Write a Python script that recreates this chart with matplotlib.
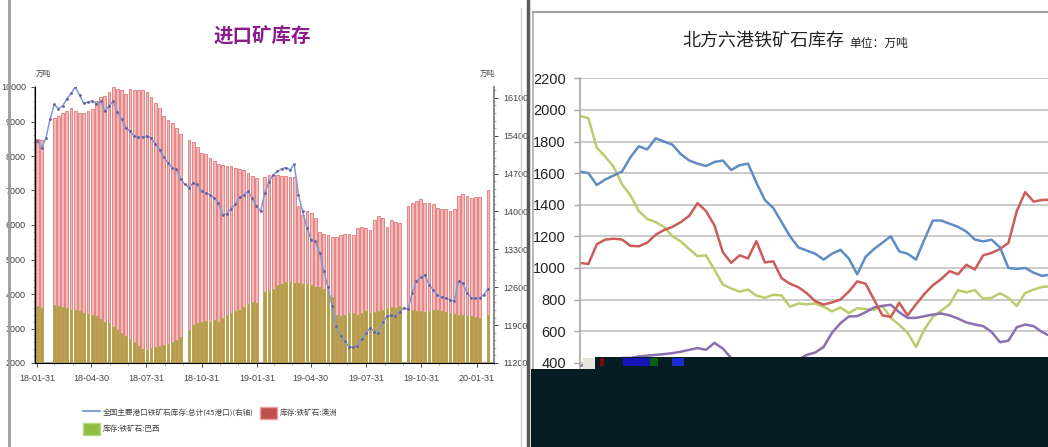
import numpy as np
import pandas as pd
import matplotlib
matplotlib.use('Agg')
import matplotlib.pyplot as plt
from matplotlib import font_manager
from matplotlib.patches import Rectangle, Patch
from matplotlib.lines import Line2D

nan = np.nan

# ---- left chart: imported ore inventory (weekly) ----
week_start = '2018-01-31'
x_labels = ['18-01-31', '18-04-30', '18-07-31', '18-10-31', '19-01-31',
            '19-04-30', '19-07-31', '19-10-31', '20-01-31']

aus = [8500, 8450, nan, nan, 9100, 9150, 9250, 9300, 9400, 9300,
       9250, 9250, 9300, 9350, 9600, 9700, 9750, 9850, 10000, 9950,
       9900, 9800, 9950, 9900, 9900, 9900, 9850, 9700, 9550, 9400,
       9150, 9050, 8950, 8800, 8650, nan, 8450, 8400, 8250, 8100,
       8050, 7950, 7850, 7780, 7750, 7720, 7700, 7650, 7630, 7580,
       7500, 7430, 7350, nan, 7400, 7450, 7450, 7450, 7430, 7420,
       7400, 7380, 6550, 6300, 6400, 6350, 6200, 5800, 5750, 5700,
       5650, 5650, 5700, 5750, 5750, 5700, 5900, 5950, 5900, 5850,
       6150, 6250, 6200, 5950, 6150, 6100, 6050, nan, 6550, 6650,
       6700, 6750, 6650, 6650, 6600, 6500, 6450, 6450, 6420, 6450,
       6850, 6900, 6830, 6770, 6800, 6800, nan, 7020]

bra = [3650, 3600, nan, nan, 3680, 3650, 3620, 3580, 3550, 3530,
       3500, 3450, 3420, 3390, 3350, 3280, 3200, 3150, 3050, 2950,
       2880, 2780, 2700, 2620, 2500, 2400, 2380, 2430, 2470, 2500,
       2520, 2560, 2600, 2680, 2760, nan, 2950, 3100, 3150, 3200,
       3220, 3200, 3250, 3200, 3300, 3380, 3450, 3500, 3550, 3620,
       3700, 3780, 3750, nan, 4050, 4100, 4150, 4250, 4300, 4350,
       4350, 4330, 4320, 4300, 4280, 4250, 4200, 4200, 4150, 4050,
       3900, 3400, 3350, 3400, 3450, 3450, 3400, 3450, 3500, 3450,
       3480, 3500, 3550, 3600, 3620, 3600, 3650, nan, 3500, 3550,
       3520, 3500, 3480, 3500, 3550, 3530, 3500, 3480, 3450, 3420,
       3400, 3380, 3350, 3350, 3330, 3300, nan, 3400]

total45 = [15300, 15180, 15350, 15700, 15980, 15900, 15950, 16080, 16180, 16300,
           16150, 16000, 16020, 16040, 15990, 16040, 15850, 15950, 16040, 15830,
           15700, 15550, 15480, 15400, 15370, 15380, 15390, 15360, 15250, 15140,
           15000, 14900, 14810, 14780, 14600, 14500, 14440, 14530, 14500, 14370,
           14340, 14310, 14250, 14160, 13940, 13960, 14050, 14130, 14260, 14300,
           14370, 14250, 14100, 14000, 14350, 14550, 14680, 14740, 14790, 14810,
           14770, 14870, 14300, 14000, 13700, 13480, 13450, 13240, 12900, 12600,
           12250, 11880, 11700, 11600, 11500, 11490, 11520, 11650, 11750, 11850,
           11780, 11760, 11950, 12060, 12080, 12060, 12150, 12220, 12190, 12500,
           12710, 12780, 12830, 12650, 12550, 12460, 12420, 12400, 12370, 12340,
           12710, 12680, 12500, 12400, 12400, 12410, 12460, 12570]

# ---- right chart: six northern ports ----
n6_blue = [1610, 1600, 1525, 1560, 1585, 1610, 1700, 1770, 1750, 1820,
           1800, 1780, 1720, 1680, 1660, 1645, 1670, 1680, 1620, 1650,
           1660, 1540, 1430, 1380, 1290, 1200, 1130, 1110, 1090, 1053,
           1090, 1115, 1060, 960, 1070, 1120, 1160, 1200, 1105, 1090,
           1053, 1180, 1300, 1300, 1280, 1260, 1230, 1180, 1168, 1179,
           1130, 1000, 994, 1000, 970, 950, 958]
n6_red = [1032, 1025, 1150, 1179, 1185, 1180, 1140, 1137, 1160, 1210,
          1240, 1260, 1290, 1330, 1410, 1360, 1270, 1100, 1032, 1080,
          1060, 1170, 1035, 1042, 935, 900, 878, 840, 790, 768,
          782, 800, 850, 915, 900, 800, 700, 690, 780, 700,
          770, 835, 890, 930, 980, 960, 1020, 990, 1080, 1095,
          1120, 1158, 1360, 1480, 1420, 1430, 1432]
n6_green = [1962, 1947, 1760, 1705, 1640, 1530, 1460, 1360, 1310, 1290,
            1260, 1200, 1168, 1120, 1074, 1080, 990, 895, 870, 850,
            863, 825, 811, 830, 826, 755, 775, 770, 775, 755,
            725, 750, 715, 745, 740, 735, 760, 684, 640, 590,
            500, 611, 690, 730, 770, 860, 845, 860, 805, 811,
            840, 811, 760, 842, 863, 880, 884]
n6_purple = [380, 390, 400, 410, 420, 430, 430, 440, 445, 450,
             455, 461, 470, 482, 493, 482, 526, 490, 430, 400,
             380, 360, 350, 345, 350, 370, 420, 450, 465, 500,
             590, 650, 693, 695, 720, 750, 760, 767, 720, 684,
             684, 695, 705, 712, 700, 680, 655, 642, 632, 595,
             530, 540, 625, 642, 632, 595, 568]

W, H = 1048, 447


def fx(px):
    return px / W


def fy(py):
    return 1 - py / H


names = {f.name for f in font_manager.fontManager.ttflist}
narrow = 'Liberation Sans Narrow' in names
NUM = 'Liberation Sans Narrow' if narrow else 'Liberation Sans'
CJK = ['Noto Sans CJK SC', 'DejaVu Sans']
plt.rcParams['font.family'] = [NUM, 'Noto Sans CJK SC', 'DejaVu Sans']

fig = plt.figure(figsize=(W / 100, H / 100), dpi=100)
fig.patch.set_facecolor('white')

weeks = pd.date_range(week_start, periods=len(aus), freq='7D')

ax1 = fig.add_axes([fx(35), fy(363), fx(494) - fx(35), fy(87) - fy(363)])
ax1.bar(weeks, aus, width=4.6, color='#f5b9b9', edgecolor='#d96565', linewidth=0.5, zorder=2)
ax1.bar(weeks, bra, width=4.6, color='#c49552', edgecolor='#a9b048', linewidth=0.6, zorder=3)
ax1.set_ylim(2000, 10000)
ax1.set_xlim(weeks[0] - pd.Timedelta(days=4), weeks[0] + pd.Timedelta(days=7 * 108))
ax1.set_yticks(range(2000, 10001, 1000))
ax1.set_yticks(range(2000, 10001, 200), minor=True)
xpos = pd.to_datetime(['20' + s for s in x_labels])
ax1.set_xticks(xpos)
ax1.set_xticklabels(x_labels)
ax1.set_xticks(pd.date_range('2018-01-31', '2020-02-29', freq='ME'), minor=True)
lsz = 7.5 if narrow else 6.5
ax1.tick_params(axis='both', labelsize=lsz, colors='#444444', length=3, width=0.7)
ax1.tick_params(which='minor', length=1.5, width=0.5, colors='#777777')
ax1.tick_params(axis='x', pad=5)
ax1.spines['top'].set_visible(False)
for sp in ['left', 'bottom', 'right']:
    ax1.spines[sp].set_color('#8a8a8a')
    ax1.spines[sp].set_linewidth(1.2)

ax2 = ax1.twinx()
ax2.plot(weeks, total45, color='#7c9cd6', lw=1.1, marker='.', ms=2.0,
         markerfacecolor='#6a5c9c', markeredgecolor='#6a5c9c', zorder=5)
ax2.set_ylim(11200, 16300)
ax2.set_yticks(range(11200, 16101, 700))
ax2.set_yticks(range(11200, 16301, 140), minor=True)
ax2.tick_params(axis='y', labelsize=lsz, colors='#444444', length=3, width=0.7)
ax2.tick_params(which='minor', length=1.5, width=0.5, colors='#777777')
ax2.spines['top'].set_visible(False)
ax2.spines['right'].set_color('#8a8a8a')
ax2.spines['right'].set_linewidth(1.2)

fig.text(fx(36), fy(74), '万吨', fontsize=5.5, family=CJK, color='#444444', va='center')
fig.text(fx(480), fy(74), '万吨', fontsize=5.5, family=CJK, color='#444444', va='center')
fig.text(fx(262), fy(37), '进口矿库存', fontsize=14, family=CJK, fontweight='bold',
         color='#8b1c8b', ha='center', va='center')

handles = [Line2D([], [], color='#6d8fcc', lw=1.2),
           Patch(facecolor='#8fbf40', edgecolor='#b8d880'),
           Patch(facecolor='#c0504d', edgecolor='#f0a0a0')]
labels = ['全国主要港口铁矿石库存:总计(45港口)(右轴)', '库存:铁矿石:巴西', '库存:铁矿石:澳洲']
fig.legend(handles, labels, ncol=2, loc='upper left', bbox_to_anchor=(fx(76), fy(400)),
           frameon=False, prop={'family': CJK, 'size': 5.5}, handlelength=2.3,
           handleheight=2.0, columnspacing=0.8, labelspacing=0.55, handletextpad=0.3,
           labelcolor='#444444')

# ---- right chart ----
ax3 = fig.add_axes([fx(580), fy(426), 504 / W, fy(78.3) - fy(426)])
k = np.arange(len(n6_blue))
ax3.plot(k, n6_green, color='#bccb6c', lw=1.8)
ax3.plot(k, n6_purple, color='#8a70b2', lw=1.8)
ax3.plot(k, n6_red, color='#cc5c5a', lw=1.8)
ax3.plot(k, n6_blue, color='#5f8cc4', lw=1.8)
ax3.set_xlim(0, 60)
ax3.set_ylim(0, 2200)
ax3.set_yticks(range(0, 2201, 200))
ax3.grid(axis='y', color='#c6c6c6', lw=1.3)
ax3.set_axisbelow(True)
ax3.set_xticks([])
for sp in ['top', 'right', 'bottom']:
    ax3.spines[sp].set_visible(False)
ax3.spines['left'].set_color('#a8a8a8')
ax3.spines['left'].set_linewidth(1.2)
ax3.tick_params(axis='y', labelsize=12.5 if narrow else 10.5, colors='#222222',
                length=4, width=1, pad=6)
ax3.tick_params(axis='y', color='#a8a8a8')

fig.text(fx(763), fy(41), '北方六港铁矿石库存', fontsize=13, family=CJK,
         color='#222222', ha='center', va='center')
fig.text(fx(849), fy(43), '单位：万吨', fontsize=8.5, family=CJK,
         color='#222222', ha='left', va='center')

# ---- frames and the dark block over the lower right ----
fig.add_artist(Line2D([fx(9), fx(9)], [0, 1], transform=fig.transFigure, color='#9c9c9c', lw=2))
fig.add_artist(Line2D([fx(521), fx(521)], [0, fy(8)], transform=fig.transFigure, color='#d0d0d0', lw=1))
fig.add_artist(Line2D([fx(528), fx(528)], [0, 1], transform=fig.transFigure, color='#5a5a5a', lw=2.5))
fig.add_artist(Line2D([fx(533), fx(533)], [0, fy(12)], transform=fig.transFigure, color='#a8a8a8', lw=1.2))
fig.add_artist(Line2D([fx(533), 1], [fy(12), fy(12)], transform=fig.transFigure, color='#a0a0a0', lw=1.5))

dark = '#041c22'
fig.add_artist(Rectangle((fx(531), 0), 1 - fx(531), fy(369), transform=fig.transFigure,
                         facecolor=dark, edgecolor='none', zorder=10))
fig.add_artist(Rectangle((fx(595), fy(369)), 1 - fx(595), fy(357) - fy(369),
                         transform=fig.transFigure, facecolor=dark, edgecolor='none', zorder=10))
fig.add_artist(Rectangle((fx(583), fy(369)), fx(595) - fx(583), fy(358) - fy(369),
                         transform=fig.transFigure, facecolor='#e8e6d8', edgecolor='none', zorder=10))
for x0, x1, c in [(600, 604, '#7a0a0a'), (623, 650, '#1414b8'), (650, 658, '#0b5e12'),
                  (672, 684, '#1a2cd0')]:
    fig.add_artist(Rectangle((fx(x0), fy(366)), fx(x1) - fx(x0), fy(358) - fy(366),
                             transform=fig.transFigure, facecolor=c, edgecolor='none', zorder=11))

fig.savefig('out.png', dpi=100)
